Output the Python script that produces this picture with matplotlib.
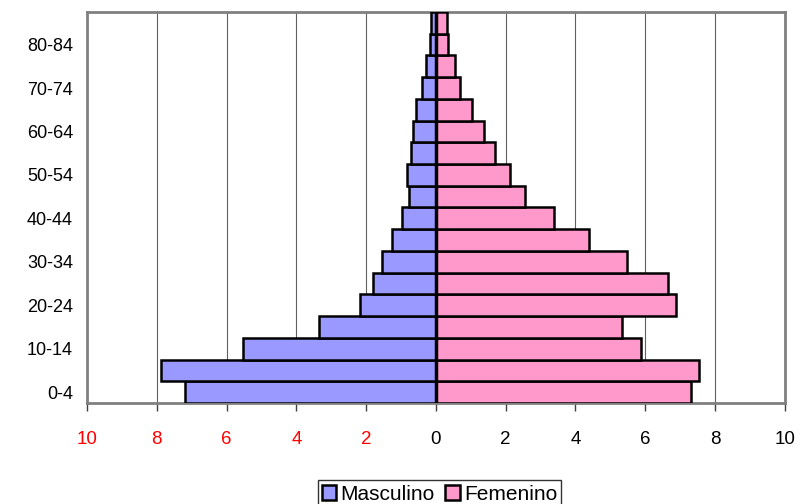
import matplotlib
matplotlib.use("Agg")
import matplotlib.pyplot as plt
import numpy as np

plt.rcParams['font.family'] = ['Liberation Sans', 'DejaVu Sans']

groups = ["0-4", "5-9", "10-14", "15-19", "20-24", "25-29", "30-34", "35-39",
          "40-44", "45-49", "50-54", "55-59", "60-64", "65-69", "70-74",
          "75-79", "80-84", "85+"]
masculino = [7.20, 7.87, 5.53, 3.35, 2.18, 1.79, 1.54, 1.27, 0.96, 0.78,
             0.84, 0.72, 0.67, 0.58, 0.39, 0.29, 0.17, 0.13]
femenino = [7.32, 7.53, 5.87, 5.32, 6.89, 6.64, 5.49, 4.38, 3.39, 2.56,
            2.12, 1.70, 1.37, 1.04, 0.70, 0.54, 0.35, 0.33]
xticks = [-10, -8, -6, -4, -2, 0, 2, 4, 6, 8, 10]

fig = plt.figure(figsize=(8.05, 5.04), dpi=100)
ax = fig.add_axes([0.108, 0.2004, 0.867, 0.7758])

y = np.arange(len(groups))
bm = ax.barh(y, [-v for v in masculino], height=1.0, color="#9999FF",
             edgecolor="black", linewidth=1.8, label="Masculino", zorder=3)
bf = ax.barh(y, femenino, height=1.0, color="#FF99CC",
             edgecolor="black", linewidth=1.8, label="Femenino", zorder=3)
ax.axvline(0, color="black", linewidth=2.5, zorder=4)

ax.set_xlim(-10, 10)
ax.set_ylim(-0.5, len(groups) - 0.5)
ax.set_xticks(xticks)
ax.set_xticklabels([str(abs(t)) for t in xticks], fontsize=13.5)
for lbl, t in zip(ax.get_xticklabels(), xticks):
    lbl.set_color("red" if t < 0 else "black")
ax.tick_params(axis="x", direction="out", length=6, width=1, color="#404040", pad=14)

ax.set_yticks(y[::2])
ax.set_yticklabels(groups[::2], fontsize=13)
ax.tick_params(axis="y", length=0, pad=10)

ax.grid(axis="x", color="#606060", linewidth=0.8, zorder=0)
ax.set_axisbelow(True)
for s in ax.spines.values():
    s.set_color("#808080")
    s.set_linewidth(2)

leg = fig.legend(handles=[bm, bf], loc="lower center", bbox_to_anchor=(0.546, -0.02),
                 ncol=2, fontsize=15, frameon=True, fancybox=False,
                 handlelength=0.7, handleheight=0.7, handletextpad=0.2,
                 columnspacing=0.5, borderpad=0.2, borderaxespad=0.3)
leg.get_frame().set_edgecolor("black")
leg.get_frame().set_linewidth(1)

fig.savefig("out.png", dpi=100)
